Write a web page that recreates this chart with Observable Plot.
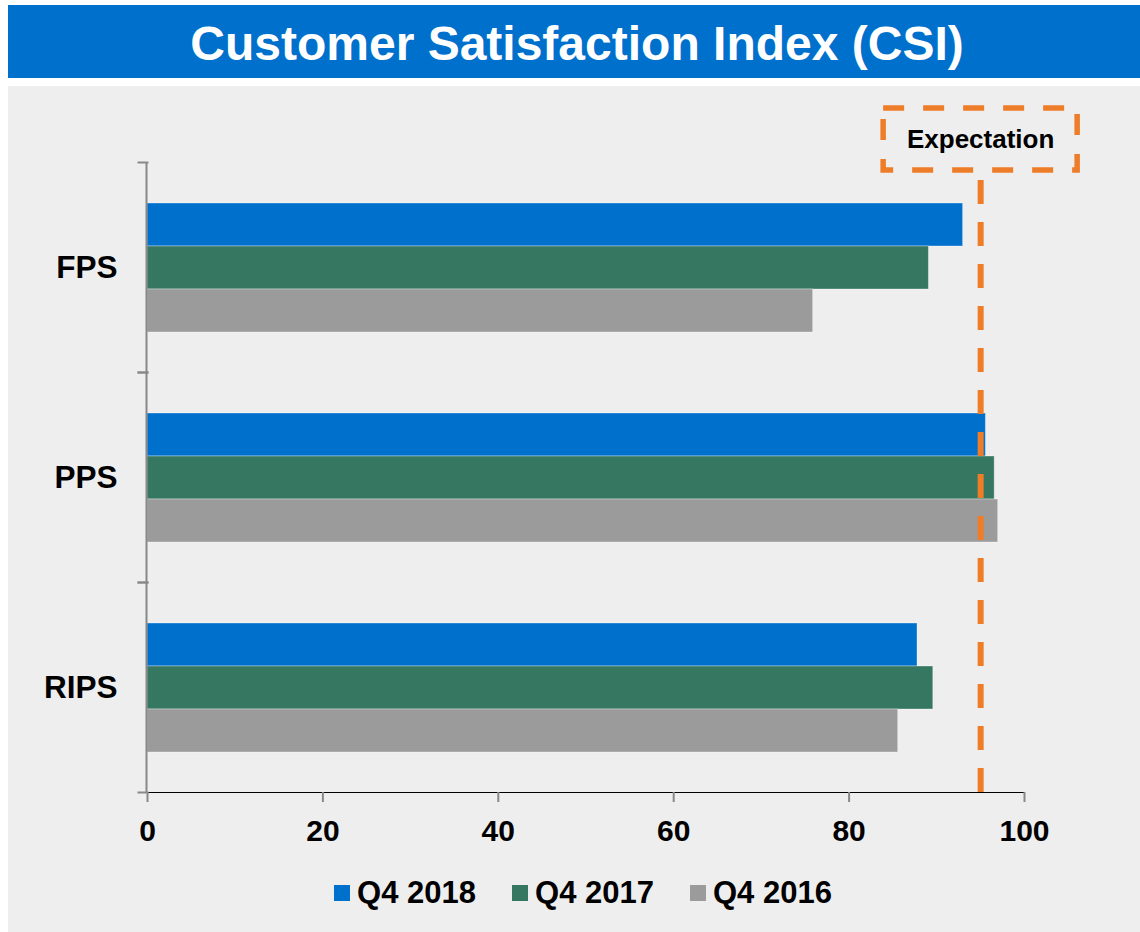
<!DOCTYPE html>
<html>
<head>
<meta charset="utf-8">
<script src="https://cdn.jsdelivr.net/npm/d3@7"></script>
<script src="https://cdn.jsdelivr.net/npm/@observablehq/plot@0.6"></script>
<style>
  html, body { margin: 0; padding: 0; background: #ffffff; }
  body { width: 1140px; height: 932px; overflow: hidden; position: relative;
         font-family: "Liberation Sans", Arial, sans-serif; }
  #banner { position: absolute; left: 8px; top: 5px; width: 1132px; height: 73px;
            background: #0070CD; color: #ffffff; font-weight: bold; font-size: 48px;
            text-align: center; line-height: 77px; padding-left: 6px; box-sizing: border-box; }
  #panel { position: absolute; left: 8px; top: 86px; width: 1132px; height: 846px;
           background: #EEEEEE; }
  #chart { position: absolute; left: 0; top: 0; }
  #chart svg g[aria-label^="x-axis"] line,
  #chart svg g[aria-label^="x-axis"] path { stroke: #888888; stroke-width: 2px; }
  #chart svg g[aria-label^="fy-axis"] text { font-size: 31.5px; }
  #legend { position: absolute; left: 0; top: 789px; width: 1132px; box-sizing: border-box;
            padding-left: 18px; display: flex; justify-content: center; align-items: center;
            font-weight: bold; font-size: 31px; color: #000; }
  .item { display: flex; align-items: center; margin: 0 18px; }
  .sw { width: 16px; height: 16px; margin-right: 7px; }
</style>
</head>
<body>
<div id="banner">Customer Satisfaction Index (CSI)</div>
<div id="panel">
  <div id="chart"></div>
  <div id="legend"></div>
</div>
<script>
// ---- data ----
const categories = ["FPS", "PPS", "RIPS"];
const series = ["Q4 2018", "Q4 2017", "Q4 2016"];
const q4_2018 = [93.0, 95.6, 87.8];
const q4_2017 = [89.1, 96.6, 89.6];
const q4_2016 = [75.9, 97.0, 85.6];
const expectation = 95;
const expectationLabel = "Expectation";
const xTicks = [0, 20, 40, 60, 80, 100];
const colors = ["#0070CD", "#357760", "#9B9B9B"];

// ---- build table ----
const seriesValues = [q4_2018, q4_2017, q4_2016];
const rows = [];
categories.forEach((cat, i) => {
  series.forEach((s, j) => rows.push({cat, series: s, value: seriesValues[j][i]}));
});

// ---- layout ----
const W = 1132, H = 776;
const mL = 139, mR = 116, mT = 76, mB = 70;
const plotW = W - mL - mR;
const facetH = (H - mT - mB) / categories.length;
const orange = "#EE7D2A";
const axisGray = "#888888";

const chart = Plot.plot({
  width: W,
  height: H,
  marginLeft: mL,
  marginRight: mR,
  marginTop: mT,
  marginBottom: mB,
  style: {
    background: "transparent",
    fontFamily: "Liberation Sans, Arial, sans-serif",
    fontSize: "30px",
    fontWeight: "bold",
    color: "#000000",
    overflow: "visible"
  },
  facet: {data: rows, y: "cat"},
  fy: {domain: categories, padding: 0, axis: "left", label: null, tickSize: 0, tickPadding: 30},
  y: {domain: series, paddingInner: 0, paddingOuter: 0.923, axis: null},
  x: {domain: [0, 100], ticks: xTicks, tickSize: 10, tickPadding: 17, line: true, label: null,
      tickFormat: d => String(d)},
  color: {domain: series, range: colors},
  marks: [
    Plot.barX(rows, {x: "value", y: "series", fill: "series",
                     stroke: "#ffffff", strokeOpacity: 0.35, strokeWidth: 1}),
    Plot.ruleX([0], {stroke: axisGray, strokeWidth: 2, dx: -1}),
    Plot.frame({anchor: "top", stroke: axisGray, strokeWidth: 2, insetLeft: -9, insetRight: plotW}),
    Plot.frame({anchor: "bottom", stroke: axisGray, strokeWidth: 2, insetLeft: -9, insetRight: plotW}),
    Plot.ruleX([expectation], {stroke: orange, strokeWidth: 6,
                               strokeDasharray: "24,18", strokeDashoffset: 24}),
    Plot.rect(rows, {filter: (d, i) => i === 0,
                     x1: () => expectation, x2: () => expectation,
                     insetLeft: -97, insetRight: -97, insetTop: -54, insetBottom: facetH - 8,
                     fill: "none", stroke: orange, strokeWidth: 5.5, strokeDasharray: "21,19"}),
    Plot.text(rows, {filter: (d, i) => i === 0,
                     x: () => expectation, text: () => expectationLabel,
                     frameAnchor: "top", lineAnchor: "middle", dy: -23,
                     fontSize: 26, fontWeight: "bold", fill: "#000000"})
  ]
});
document.getElementById("chart").appendChild(chart);

// ---- legend ----
const legend = document.getElementById("legend");
series.forEach((s, j) => {
  const item = document.createElement("div");
  item.className = "item";
  const sw = document.createElement("span");
  sw.className = "sw";
  sw.style.background = colors[j];
  const lab = document.createElement("span");
  lab.textContent = s;
  item.appendChild(sw);
  item.appendChild(lab);
  legend.appendChild(item);
});
</script>
</body>
</html>
